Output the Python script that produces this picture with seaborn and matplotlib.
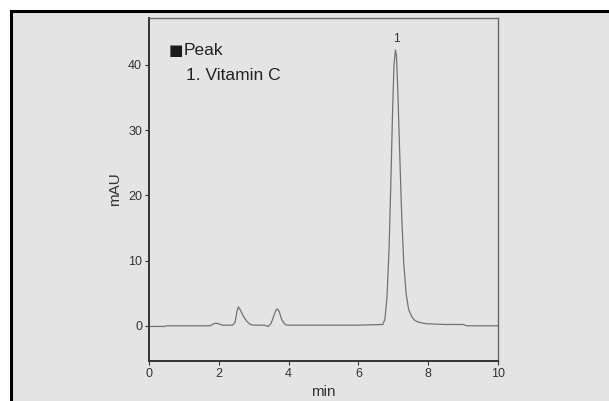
import numpy as np
import pandas as pd
import matplotlib
matplotlib.use("Agg")
import matplotlib.pyplot as plt
from matplotlib.patches import Rectangle
import seaborn as sns

# Chromatogram points
time_min = [0.0, 0.45, 0.5, 1.75, 1.85, 1.92, 2.0, 2.1, 2.4, 2.47, 2.52, 2.56, 2.62, 2.7, 2.8, 2.9, 3.0, 3.3,
            3.42, 3.5, 3.58, 3.64, 3.68, 3.73, 3.8, 3.88, 3.95, 4.1, 6.0, 6.7, 6.76, 6.82, 6.88, 6.93, 6.98,
            7.02, 7.06, 7.09, 7.13, 7.18, 7.24, 7.3, 7.37, 7.44, 7.52, 7.6, 7.7, 7.85, 8.0, 8.5, 9.0, 9.1, 10.0]
mau = [-0.1, -0.1, 0.0, 0.0, 0.3, 0.4, 0.3, 0.1, 0.1, 0.6, 2.2, 2.9, 2.4, 1.5, 0.7, 0.2, 0.1, 0.1,
       -0.1, 0.4, 1.6, 2.4, 2.6, 2.2, 1.0, 0.3, 0.1, 0.1, 0.1, 0.2, 1.0, 4.5, 12.0, 22.0, 33.0,
       40.0, 42.3, 41.5, 36.0, 27.0, 17.0, 9.5, 4.8, 2.5, 1.5, 0.9, 0.6, 0.4, 0.3, 0.2, 0.2, 0.0, 0.0]
x_ticks = [0, 2, 4, 6, 8, 10]
y_ticks = [0, 10, 20, 30, 40]
peak_labels = ["1"]
peak_names = ["1. Vitamin C"]
peak_times = [7.08]
peak_heights = [42.3]

df = pd.DataFrame({"min": time_min, "mAU": mau})

sns.set_theme(style="white")
plt.rcParams["font.family"] = ["Liberation Sans", "DejaVu Sans"]

bg = "#e4e4e4"
fig = plt.figure(figsize=(6.09, 4.01), dpi=100, facecolor="white")
fig.patches.append(Rectangle((11 / 609, -0.02), 1.1, (401 - 11) / 401 + 0.02,
                             transform=fig.transFigure, facecolor=bg,
                             edgecolor="black", lw=2.2, zorder=-5))

ax = fig.add_axes([149 / 609, (401 - 361) / 401, (498 - 149) / 609, (361 - 18) / 401])
ax.set_zorder(5)
ax.set_facecolor(bg)
sns.lineplot(data=df, x="min", y="mAU", ax=ax, color="#727272", lw=0.9)

ax.set_xlim(0, 10)
ax.set_ylim(-5.4, 47.2)
ax.set_xticks(x_ticks)
ax.set_yticks(y_ticks)
ax.tick_params(axis="both", labelsize=9, colors="#333333", length=3, width=0.8,
               direction="out", pad=2)
ax.tick_params(left=True, bottom=True)
ax.set_xlabel("min", fontsize=11, color="#333333", labelpad=4)
ax.set_ylabel("mAU", fontsize=11, color="#333333", labelpad=4)

for side in ["left", "bottom"]:
    ax.spines[side].set_color("#333333")
    ax.spines[side].set_linewidth(1.4)
for side in ["top", "right"]:
    ax.spines[side].set_color("#666666")
    ax.spines[side].set_linewidth(1.0)

for lab, t, h in zip(peak_labels, peak_times, peak_heights):
    ax.text(t, h + 0.8, lab, ha="center", va="bottom", fontsize=8.5, color="#333333")

def px(x, y):
    return (x / 609, 1 - y / 401)

fig.text(*px(169, 55), "\u25a0", fontsize=11, family=["DejaVu Sans"], color="#1a1a1a",
         va="baseline", ha="left", zorder=10)
fig.text(*px(184, 55), "Peak", fontsize=12.5, color="#222222", va="baseline", ha="left", zorder=10)
for i, name in enumerate(peak_names):
    fig.text(*px(186, 80 + 25 * i), name, fontsize=12.5, color="#222222",
             va="baseline", ha="left", zorder=10)

fig.savefig("out.png", dpi=100, facecolor="white")
